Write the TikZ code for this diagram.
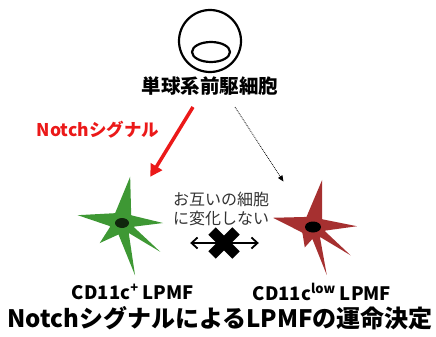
\documentclass[tikz,border=0pt]{standalone}
\usepackage{fontspec}
\newfontfamily\jpfont{Noto Sans CJK JP}
\usetikzlibrary{arrows.meta}
\definecolor{cellgreen}{RGB}{62,152,52}
\definecolor{cellred}{RGB}{166,48,48}
\definecolor{signalred}{RGB}{235,25,25}

\tikzset{
  jpbold/.style={font=\jpfont\bfseries\fontsize{#1}{#1}\selectfont, inner sep=0pt},
  cellspot/.style={circle, minimum size=108pt, inner sep=0pt},
  signal/.style={draw=signalred, line width=3.5pt, -{Triangle[length=12pt,width=13pt]}},
  weak/.style={densely dotted, line width=0.8pt, -{Triangle[length=6pt,width=5pt]}},
}

\begin{document}
\begin{tikzpicture}[x=1pt,y=-1pt]
  \useasboundingbox (0,0) rectangle (436,337);

  % 前駆細胞
  \node[draw, circle, line width=2.2pt, minimum size=62pt, inner sep=0pt] (progenitor) at (210,41) {};
  \draw[line width=2.2pt] (211,52) ellipse (19 and 10);
  \node[jpbold=19.5] (progtext) at (210,86) {単球系前駆細胞};

  % 分化した細胞
  \node[cellspot] (greencell) at (122,223) {};
  \node[cellspot] (redcell) at (313,227) {};
  \begin{scope}[shift={(122,223)}]
    \fill[cellgreen] (-80:47) -- (-40:12) -- (0:41) -- (18:12) -- (37:48) -- (56:12)
      -- (76:54) -- (107:12) -- (138:30) -- (164:12) -- (190:45) -- (235:12) -- cycle;
    \fill[cellgreen] (0,0) ellipse (13 and 11);
    \fill[cellgreen!25!black] (0,0) ellipse (7 and 5);
  \end{scope}
  \begin{scope}[shift={(313,227)}]
    \fill[cellred] (-79:48) -- (-40:12) -- (-1:44) -- (18:12) -- (37:47) -- (55:12)
      -- (74:50) -- (93:12) -- (112:22) -- (152:12) -- (193:41) -- (237:12) -- cycle;
    \fill[cellred] (0,0) ellipse (13 and 11);
    \fill[black] (0,0) ellipse (8 and 5.5);
  \end{scope}

  % 分化の矢印
  \coordinate (redfrom) at (193,107);
  \coordinate (dotfrom) at (235,107);
  \draw[signal] (redfrom) -- (greencell);
  \draw[weak] (dotfrom) -- (redcell);
  \node[jpbold=17.5, text=signalred] (notch) at (98,130) {Notchシグナル};

  % 相互に変化しない
  \node[font=\jpfont\fontsize{16}{18.5}\selectfont, text=black!80, align=center, inner sep=0pt]
    (nochange) at (221,209) {お互いの細胞\\に変化しない};
  \draw[line width=1.8pt, {Straight Barb[length=6pt,width=11pt]}-{Straight Barb[length=6pt,width=11pt]}]
    ([shift={(14,20)}]greencell.east) -- ([shift={(0,16)}]redcell.west);
  \node (cross) at (224,243) {};
  \draw[line width=10.5pt] (212,231) -- (236,255);
  \draw[line width=10.5pt] (236,231) -- (212,255);

  % ラベル
  \node[jpbold=18.5] (greenlabel) at (133,292) {CD11c\textsuperscript{+} LPMF};
  \node[jpbold=18.5] (redlabel) at (322,292) {CD11c\textsuperscript{low} LPMF};
  \node[jpbold=24] (title) at (220,318) {NotchシグナルによるLPMFの運命決定};
\end{tikzpicture}
\end{document}
